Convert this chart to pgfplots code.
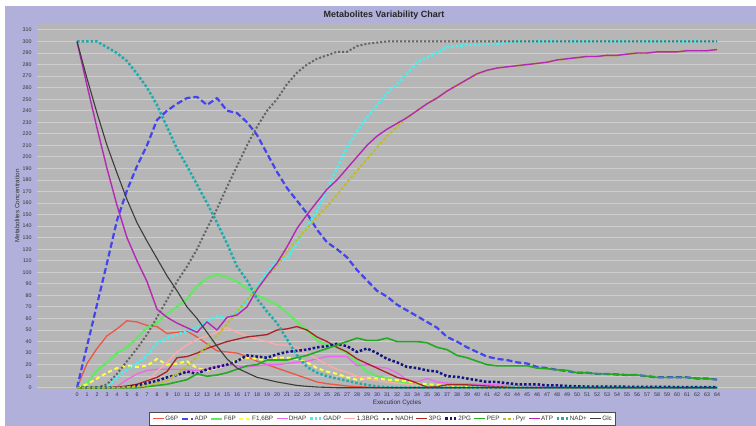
\documentclass[border=0pt]{standalone}
\usepackage{pgfplots}
\usepackage{pgfplotstable}
\pgfplotsset{compat=1.18}
\usepackage{fontspec}
\setmainfont{Liberation Sans}

\definecolor{bglav}{RGB}{176,176,218}
\definecolor{plotgray}{RGB}{182,182,182}
\definecolor{gridcol}{RGB}{206,206,206}
\definecolor{cG6P}{RGB}{238,85,68}
\definecolor{cADP}{RGB}{68,68,238}
\definecolor{cF6P}{RGB}{102,230,102}
\definecolor{cF16BP}{RGB}{255,255,68}
\definecolor{cDHAP}{RGB}{238,102,238}
\definecolor{cGADP}{RGB}{68,240,240}
\definecolor{cBPG}{RGB}{255,170,170}
\definecolor{cNADH}{RGB}{100,100,100}
\definecolor{cPGiii}{RGB}{170,34,34}
\definecolor{cPGii}{RGB}{20,20,130}
\definecolor{cPEP}{RGB}{34,170,34}
\definecolor{cPyr}{RGB}{190,190,40}
\definecolor{cATP}{RGB}{180,40,180}
\definecolor{cNADp}{RGB}{34,170,170}
\definecolor{cGlc}{RGB}{60,60,60}

\pgfplotstableread{
c  G6P  ADP  F6P  F16BP DHAP GADP BPG  NADH PGiii PGii PEP  Pyr  ATP  NADp Glc
0  0    0    0    0     0    0    0    0    0     0    0    0    300  300  300
1  21   36   4    3     0    0    0    0    0     0    0    0    262  300  268
2  34   72   15   8     0    0    0    0    0     0    0    0    225  300  238
3  45   108  22   13    0    1    0    3    0     0    0    0    190  295  210
4  51   145  30   17    1    9    0    12   0.5   0    0    0    158  290  186
5  58   171  35   19    7    16   0    23   1.5   0.5  0    0.5  130  283  163
6  57   192  43   18    12   21   1    34   3     2    0    1    110  272  143
7  54   210  52   19    15   28   6    46   6     4    1    2    92   260  127
8  53   232  56   25    16   39   14   61   9     6    2    4    68   245  112
9  47   240  64   20    16   43   22   76   14    9    3    6    61   226  97
10 48   246  70   21    16   46   31   92   26    11   5    12   56   207  84
11 49   251  77   23    15.5 49   37   105  27    14   7    19   52   192  70
12 44   252  88   17    15   52   42   120  30    12   12   27   48   176  60
13 38   245  95   15    16   58   45   138  34    16   10   36   57   160  48
14 32   251  98   17    18   62   48   155  37    18   11   45   50   143  36
15 31   240  96   20    20   60   52   174  40    20   13   55   61   125  25
16 30   238  92   24    19   66   48   192  42    23   16   66   63   105  17
17 27   230  86   26    18   75   45   210  44    28   19   76   70   93   13
18 23   219  80   25    19   88   42   226  45    27   20   86   85   77   9
19 20   203  76   24    20   100  40   240  46    26   24   96   97   66   7
20 17   187  72   26    20   110  37   250  50    29   24   106  108  56   5
21 14   173  65   26    21   112  37   263  51    31   24   118  122  42   3.5
22 11   162  57   25    22   125  35   273  53    32   26   128  138  28   2
23 8    151  50   22    23   140  30   280  50    33   28   138  150  18   1.2
24 5    137  41   17    25   153  25   285  44    35   31   148  161  13   0.6
25 3.5  126  37   14    27   172  20   288  40    36   34   157  172  10   0.3
26 2.5  120  35   12    27   190  16   291  35    38   37   167  180  8    0
27 1.5  113  30   9     27   208  13.5 291  31    36   40   178  190  6    0
28 1    102  22   7     19   222  10   296  25    31   43   188  200  4    0
29 0.5  93   14   8     20   234  7.5  298  21    34   41   198  210  2.5  0
30 0    84   10   8     18   245  6    299  17    30   41   208  218  1    0
31 0    79   8    7     17   255  5    300  13    25   43   218  224  0.5  0
32 0    72   5.5  6.5   13   263  4    300  9     22   40   226  229  0    0
33 0    67   4    5.5   7    272  3    300  7     18   40   234  234  0    0
34 0    62   3    4     5    282  2    300  4     17   40   240  240  0    0
35 0    57   2    3     8    286  1.5  300  0.5   15   39   246  246  0    0
36 0    52   1.5  2.5   5    290  1    300  1     14   35   251  251  0    0
37 0    44   1    1.5   4    295  0.5  300  2.5   10   33   257  257  0    0
38 0    40   0.5  1     3.5  296  0    300  2.5   9.5  28   262  262  0    0
39 0    35   0    0.5   3.5  297  0    300  2.5   8    26   267  267  0    0
40 0    31   0    0     3    297  0    300  2     6.5  23   272  272  0    0
41 0    27   0    0     3    298  0    300  1.5   5    20   275  275  0    0
42 0    25   0    0     2.5  298  0    300  1     5    19   277  277  0    0
43 0    24   0    0     2    299  0    300  0.5   4    19   278  278  0    0
44 0    22   0    0     2    300  0    300  0     3    19   279  279  0    0
45 0    21   0    0     1.5  300  0    300  0     3    19   280  280  0    0
46 0    18   0    0     1.5  300  0    300  0     3    17   281  281  0    0
47 0    17   0    0     1    300  0    300  0     2    16.5 282  282  0    0
48 0    15.5 0    0     1    300  0    300  0     2    15.5 284  284  0    0
49 0    14.5 0    0     0.5  300  0    300  0     1.5  15   285  285  0    0
50 0    13   0    0     0.5  300  0    300  0     1.2  13   286  286  0    0
51 0    13   0    0     0.5  300  0    300  0     1    13   287  287  0    0
52 0    12   0    0     0.5  300  0    300  0     1    12   287  287  0    0
53 0    12   0    0     0.5  300  0    300  0     1    12   288  288  0    0
54 0    11.5 0    0     0.5  300  0    300  0     1    11.5 288  288  0    0
55 0    11   0    0     0.5  300  0    300  0     0.8  11   289  289  0    0
56 0    11   0    0     0.5  300  0    300  0     0.8  11   290  290  0    0
57 0    10   0    0     0.5  300  0    300  0     0.8  10   290  290  0    0
58 0    9    0    0     0.5  300  0    300  0     0.7  9    291  291  0    0
59 0    9    0    0     0.5  300  0    300  0     0.7  9    291  291  0    0
60 0    9    0    0     0.5  300  0    300  0     0.6  9    291  291  0    0
61 0    9    0    0     0.5  300  0    300  0     0.6  9    292  292  0    0
62 0    8    0    0     0.5  300  0    300  0     0.5  8    292  292  0    0
63 0    8    0    0     0.5  300  0    300  0     0.5  8    292  292  0    0
64 0    7    0    0     0.5  300  0    300  0     0.5  7    293  293  0    0
}\data

\begin{document}
\begin{tikzpicture}
\useasboundingbox (0pt,0pt) rectangle (756pt,426pt);
\fill[white] (0pt,0pt) rectangle (756pt,426pt);
\fill[bglav] (5pt,0pt) rectangle (756pt,420pt);
\begin{axis}[
  at={(37pt,37pt)}, anchor=south west,
  scale only axis, width=719pt, height=366pt,
  xmin=-4, xmax=67.9, ymin=-1.1, ymax=316,
  axis background/.style={fill=plotgray},
  axis line style={draw=none},
  major tick length=0pt,
  xtick={0,...,64}, ytick={0,10,...,310},
  ymajorgrids, grid style={gridcol, line width=0.9pt},
  /pgf/number format/assume math mode=true,
  tick label style={font=\fontsize{5.3}{6}\selectfont, text=black!80},
  yticklabel style={xshift=-2pt},
  xticklabel style={yshift=-0.5pt},
  title={\textbf{Metabolites Variability Chart}},
  title style={at={(axis description cs:0.4826,1.0045)}, anchor=center, font=\fontsize{9}{10}\selectfont, text=black!85},
  xlabel={Execution Cycles},
  ylabel={Metabolites Concentration},
  every axis x label/.style={at={(axis description cs:0.5007,-0.0383)}, anchor=center, font=\fontsize{6.3}{7}\selectfont, text=black!80},
  every axis y label/.style={at={(axis description cs:-0.0278,0.5)}, rotate=90, anchor=center, font=\fontsize{6.3}{7}\selectfont, text=black!80},
  legend columns=15,
  legend style={at={(axis description cs:0.4805,-0.062)}, anchor=north, draw=black!70, fill=white, line width=0.5pt,
    font=\fontsize{6.3}{7}\selectfont, inner sep=3pt, nodes={inner sep=0.7pt, text=black!80},
    /tikz/every even column/.append style={column sep=2pt}},
  legend image code/.code={\draw[#1] (0pt,0pt) -- (11pt,0pt);},
  every axis plot/.append style={line join=round},
]
\addplot[cG6P, line width=1.3pt] table[x=c,y=G6P]{\data};
\addlegendentry{G6P}
\addplot[cADP, line width=2.2pt, dash pattern=on 6pt off 3pt] table[x=c,y=ADP]{\data};
\addlegendentry{ADP}
\addplot[cF6P, line width=2.2pt] table[x=c,y=F6P]{\data};
\addlegendentry{F6P}
\addplot[cF16BP, line width=2pt, dash pattern=on 4pt off 3pt] table[x=c,y=F16BP]{\data};
\addlegendentry{F1,6BP}
\addplot[cDHAP, line width=1.3pt] table[x=c,y=DHAP]{\data};
\addlegendentry{DHAP}
\addplot[cGADP, line width=2.5pt, dash pattern=on 2.5pt off 2pt] table[x=c,y=GADP]{\data};
\addlegendentry{GADP}
\addplot[cBPG, line width=1.3pt] table[x=c,y=BPG]{\data};
\addlegendentry{1,3BPG}
\addplot[cNADH, line width=2pt, dash pattern=on 2pt off 2pt] table[x=c,y=NADH]{\data};
\addlegendentry{NADH}
\addplot[cPGiii, line width=1.3pt] table[x=c,y=PGiii]{\data};
\addlegendentry{3PG}
\addplot[cPGii, line width=2.5pt, dash pattern=on 2.5pt off 2pt] table[x=c,y=PGii]{\data};
\addlegendentry{2PG}
\addplot[cPEP, line width=1.6pt] table[x=c,y=PEP]{\data};
\addlegendentry{PEP}
\addplot[cPyr, line width=2pt, dash pattern=on 3pt off 2pt] table[x=c,y=Pyr]{\data};
\addlegendentry{Pyr}
\addplot[cATP, line width=1.4pt] table[x=c,y=ATP]{\data};
\addlegendentry{ATP}
\addplot[cNADp, line width=2.5pt, dash pattern=on 2.5pt off 2pt] table[x=c,y=NADp]{\data};
\addlegendentry{NAD+}
\addplot[cGlc, line width=1.1pt] table[x=c,y=Glc]{\data};
\addlegendentry{Glc}
\end{axis}
\end{tikzpicture}
\end{document}
